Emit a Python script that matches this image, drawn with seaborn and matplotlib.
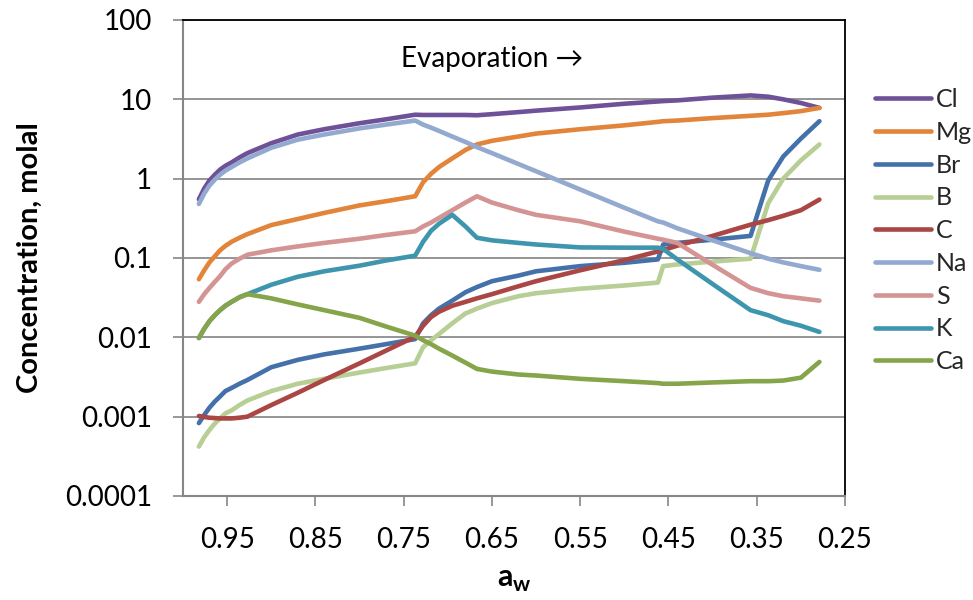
import numpy as np
import pandas as pd
import matplotlib
matplotlib.use("Agg")
import matplotlib.pyplot as plt
import seaborn as sns
from matplotlib.ticker import FixedLocator, FixedFormatter, NullLocator

# Water activity along the evaporation path
aw = [0.982, 0.976, 0.97, 0.964, 0.958, 0.952, 0.945, 0.936, 0.927, 0.90, 0.87,
      0.84, 0.80, 0.77, 0.737, 0.728, 0.719, 0.71, 0.695, 0.68, 0.667, 0.65,
      0.62, 0.60, 0.55, 0.50, 0.462, 0.456, 0.44, 0.40, 0.357, 0.337, 0.32,
      0.30, 0.279]

# Concentrations (molal) of each species
cl = [0.55, 0.75, 0.95, 1.12, 1.3, 1.45, 1.6, 1.85, 2.1, 2.8, 3.6,
      4.2, 5.0, 5.6, 6.4, 6.35, 6.35, 6.35, 6.35, 6.35, 6.3, 6.5,
      6.9, 7.2, 7.9, 8.8, 9.4, 9.5, 9.7, 10.5, 11.2, 10.8, 10.0,
      9.0, 7.8]
mg = [0.054, 0.07, 0.088, 0.105, 0.125, 0.142, 0.16, 0.18, 0.2, 0.26, 0.31,
      0.37, 0.46, 0.52, 0.6, 0.9, 1.15, 1.4, 1.8, 2.3, 2.7, 3.0,
      3.4, 3.7, 4.2, 4.7, 5.2, 5.3, 5.4, 5.8, 6.2, 6.4, 6.7,
      7.1, 7.8]
br = [0.00083, 0.00105, 0.0013, 0.00155, 0.0018, 0.0021, 0.0023, 0.0026, 0.0029, 0.0042, 0.0052,
      0.0061, 0.0072, 0.0082, 0.0095, 0.015, 0.019, 0.023, 0.029, 0.037, 0.043, 0.051,
      0.06, 0.068, 0.079, 0.087, 0.096, 0.148, 0.155, 0.17, 0.19, 0.95, 1.9,
      3.2, 5.3]
b = [0.00042, 0.00055, 0.00068, 0.00082, 0.00095, 0.0011, 0.0012, 0.0014, 0.0016, 0.0021, 0.0026,
     0.003, 0.0036, 0.0041, 0.0047, 0.0075, 0.0092, 0.011, 0.015, 0.02, 0.023, 0.027,
     0.033, 0.036, 0.041, 0.045, 0.049, 0.079, 0.083, 0.09, 0.098, 0.49, 1.0,
     1.7, 2.7]
c = [0.00102, 0.00099, 0.00097, 0.00096, 0.00095, 0.00095, 0.00095, 0.00097, 0.001, 0.0014, 0.002,
     0.0029, 0.0047, 0.0068, 0.0102, 0.014, 0.018, 0.021, 0.025, 0.028, 0.031, 0.035,
     0.044, 0.051, 0.07, 0.094, 0.121, 0.126, 0.143, 0.19, 0.263, 0.30, 0.34,
     0.40, 0.545]
na = [0.48, 0.65, 0.82, 0.97, 1.12, 1.26, 1.4, 1.6, 1.8, 2.45, 3.1,
      3.6, 4.3, 4.8, 5.4, 4.8, 4.4, 4.0, 3.4, 2.9, 2.5, 2.1,
      1.53, 1.24, 0.73, 0.43, 0.29, 0.28, 0.237, 0.167, 0.115, 0.098, 0.088,
      0.079, 0.071]
s = [0.028, 0.035, 0.042, 0.05, 0.059, 0.072, 0.085, 0.098, 0.11, 0.125, 0.14,
     0.155, 0.175, 0.195, 0.217, 0.25, 0.28, 0.32, 0.40, 0.5, 0.6, 0.5,
     0.4, 0.35, 0.29, 0.215, 0.175, 0.17, 0.155, 0.082, 0.042, 0.036, 0.033,
     0.031, 0.029]
k = [0.0098, 0.0128, 0.016, 0.019, 0.022, 0.025, 0.028, 0.032, 0.035, 0.046, 0.058,
     0.068, 0.08, 0.093, 0.107, 0.16, 0.22, 0.27, 0.35, 0.25, 0.18, 0.167,
     0.155, 0.148, 0.136, 0.135, 0.135, 0.13, 0.096, 0.047, 0.022, 0.019, 0.016,
     0.014, 0.0117]
ca = [0.0098, 0.0128, 0.016, 0.019, 0.022, 0.025, 0.028, 0.032, 0.035, 0.031, 0.026,
      0.022, 0.0176, 0.0137, 0.0105, 0.0092, 0.0082, 0.0072, 0.0059, 0.0048, 0.004, 0.0037,
      0.0034, 0.0033, 0.003, 0.0028, 0.00265, 0.0026, 0.0026, 0.0027, 0.0028, 0.0028, 0.00285,
      0.0031, 0.0049]

species = ["Cl", "Mg", "Br", "B", "C", "Na", "S", "K", "Ca"]
colors = ["#6E5196", "#E2843A", "#4471AA", "#B7CE95", "#AA4643",
          "#93A9CF", "#D39493", "#3D96AE", "#86A44A"]

x_ticks = [0.95, 0.85, 0.75, 0.65, 0.55, 0.45, 0.35, 0.25]
y_ticks = [1e-4, 1e-3, 1e-2, 1e-1, 1, 10, 100]
y_tick_labels = ["0.0001", "0.001", "0.01", "0.1", "1", "10", "100"]

series = dict(zip(species, [cl, mg, br, b, c, na, s, k, ca]))
df = pd.concat(
    [pd.DataFrame({"aw": aw, "conc": vals, "ion": name}) for name, vals in series.items()],
    ignore_index=True,
)

sns.set_theme(style="white")
plt.rcParams["font.family"] = ["Lato", "DejaVu Sans"]
plt.rcParams["mathtext.fontset"] = "custom"
plt.rcParams["mathtext.rm"] = "Lato"
plt.rcParams["mathtext.bf"] = "Lato:bold"

fig = plt.figure(figsize=(9.73, 6.0), dpi=100)
ax = fig.add_axes([183 / 973, 104 / 600, 662 / 973, 476 / 600])

sns.lineplot(data=df, x="aw", y="conc", hue="ion", hue_order=species,
             palette=colors, sort=False, estimator=None, linewidth=3.3, ax=ax)
for line in ax.lines:
    line.set_solid_capstyle("round")
    line.set_solid_joinstyle("round")

ax.set_yscale("log")
ax.set_ylim(1e-4, 100)
ax.set_xlim(1.0, 0.25)
ax.yaxis.set_major_locator(FixedLocator(y_ticks))
ax.yaxis.set_major_formatter(FixedFormatter(y_tick_labels))
ax.yaxis.set_minor_locator(NullLocator())
ax.xaxis.set_major_locator(FixedLocator(x_ticks))
ax.xaxis.set_major_formatter(FixedFormatter([f"{t:.2f}" for t in x_ticks]))

ax.set_axisbelow(True)
ax.yaxis.grid(True, color="#8c8c8c", linewidth=1.3)
ax.xaxis.grid(False)
for side in ("left", "bottom"):
    ax.spines[side].set_color("#868686")
    ax.spines[side].set_linewidth(1.5)
for side in ("top", "right"):
    ax.spines[side].set_color("black")
    ax.spines[side].set_linewidth(1.3)
ax.tick_params(axis="both", which="major", direction="out", length=7.2, width=1.2,
               color="#868686", labelcolor="black", labelsize=20, pad=15)
ax.tick_params(axis="both", which="minor", length=0)
ax.tick_params(axis="x", bottom=True)
ax.tick_params(axis="y", left=True)
ax.set_xlabel("")
ax.set_ylabel("")

ax.text(0.467, 0.918, "Evaporation \u2192", transform=ax.transAxes,
        ha="center", va="center", fontsize=20, color="black")

fig.text(30 / 973, 1 - 258 / 600, "Concentration, molal", rotation=90,
         ha="center", va="center", fontsize=21, fontweight="bold", color="black")
fig.text(514 / 973, 1 - 580 / 600, r"$\mathbf{a}_{\mathbf{w}}$",
         ha="center", va="center", fontsize=22, color="black")

handles, labels = ax.get_legend_handles_labels()
if ax.get_legend() is not None:
    ax.get_legend().remove()
leg = fig.legend(handles, labels, loc="upper left",
                 bbox_to_anchor=(875 / 973, 1 - 88 / 600),
                 frameon=False, fontsize=18, handlelength=2.24, handletextpad=0.2,
                 labelspacing=0.39, borderpad=0, borderaxespad=0)
for h in leg.get_lines():
    h.set_linewidth(3.3)
    h.set_solid_capstyle("round")

fig.savefig("out.png", dpi=100)
